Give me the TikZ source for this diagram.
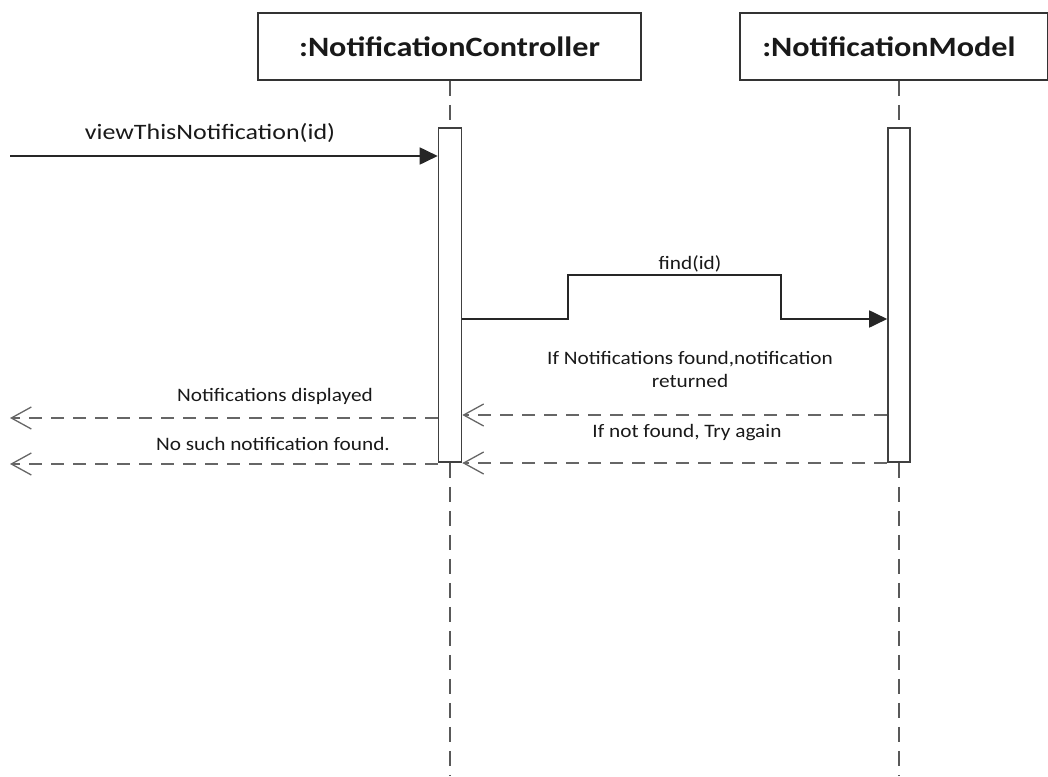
\documentclass[tikz,border=0pt]{standalone}
\usepackage{fontspec}
\setmainfont{Carlito}
\newfontfamily\boxfont[FakeStretch=1.15]{Carlito}
\newfontfamily\msgfont[FakeStretch=1.18]{Carlito}
\newfontfamily\smallfont[FakeStretch=1.12]{Carlito}
\usetikzlibrary{arrows.meta}
\begin{document}
\begin{tikzpicture}[x=1pt,y=-1pt,
  objbox/.style={draw=black!80,line width=1.8pt,fill=white,inner sep=0pt,font=\boxfont\fontsize{28}{32}\selectfont\bfseries,text=black!90},
  actbar/.style={draw=black!75,line width=1.6pt,fill=white,inner sep=0pt,minimum width=23pt},
  lifeline/.style={draw=black!65,line width=1.8pt,dash pattern=on 15pt off 9pt},
  msg/.style={draw=black!85,line width=1.8pt,-{Triangle[length=18pt,width=17pt]}},
  ret/.style={draw=black!60,line width=1.8pt,dash pattern=on 13pt off 9pt,-{Straight Barb[length=20pt,width=22pt,line width=1.3pt]}},
  lbl/.style={font=\smallfont\fontsize{19}{23}\selectfont,text=black!90,inner sep=0pt,align=center},
  lblbig/.style={font=\msgfont\fontsize{22}{26}\selectfont,text=black!90,inner sep=0pt}]
\useasboundingbox (0,0) rectangle (1048,776);
% object boxes
\node[objbox,minimum width=383pt,minimum height=67pt] (cbox) at (449.5,46.5) {:NotificationController};
\node[objbox,minimum width=308pt,minimum height=67pt,anchor=west] (mbox) at (739,46.5) {\hspace*{-10pt}:NotificationModel};
% activation bars
\node[actbar,minimum height=334pt] (ca) at (450,295) {};
\node[actbar,minimum width=22pt,minimum height=334pt] (ma) at (899,295) {};
% lifelines
\draw[lifeline] (cbox.south -| ca.north) -- (ca.north);
\draw[lifeline] (ca.south) -- (450,776) coordinate (cend);
\draw[lifeline] (mbox.south -| ma.north) -- (ma.north);
\draw[lifeline] (ma.south) -- (899,776) coordinate (mend);
% coordinates
\coordinate (in1) at (10,156);
\coordinate (f1) at (568,319);
\coordinate (f2) at (568,275);
\coordinate (f3) at (781,275);
\coordinate (f4) at (781,319);
\coordinate (out1) at (10,418);
\coordinate (out2) at (10,464);
% messages
\draw[msg] (in1) -- (in1 -| ca.west);
\node[lblbig] (l1) at (210,133) {viewThisNotification(id)};
\draw[msg] (f1 -| ca.east) -- (f1) -- (f2) -- (f3) -- (f4) -- (f4 -| ma.west);
\node[lbl] (l2) at (690,264) {find(id)};
\draw[ret] (ma.west |- 0,415) -- (ca.east |- 0,415);
\node[lbl] (l3) at (690,369) {If Notifications found,notification\\returned};
\draw[ret] (ma.west |- 0,463) -- (ca.east |- 0,463);
\node[lbl] (l4) at (687,433) {If not found, Try again};
\draw[ret] (ca.west |- out1) -- (out1);
\node[lbl] (l5) at (275,396) {Notifications displayed};
\draw[ret] (ca.west |- out2) -- (out2);
\node[lbl] (l6) at (273,444) {No such notification found.};
\end{tikzpicture}
\end{document}
